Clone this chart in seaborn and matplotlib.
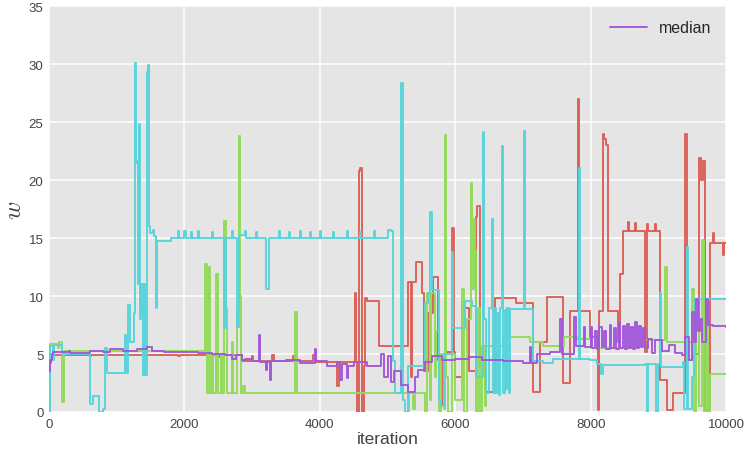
import numpy as np
import pandas as pd
import matplotlib
matplotlib.use("Agg")
import matplotlib.pyplot as plt
import seaborn as sns

# ---------------- data (step breakpoints) ----------------
red_iter = [0, 30, 600, 620, 1400, 1420, 1900, 1930, 2500, 2530, 2850, 3000, 3020, 3300, 3320,
            3600, 3630, 3900, 3930, 4250, 4290, 4520, 4540, 4555, 4575, 4600, 4620, 4650, 4670,
            4700, 4880, 5300, 5340, 5360, 5420, 5510, 5540, 5600, 5670, 5750, 5800, 5850, 5950,
            5975, 6000, 6100, 6200, 6300, 6320, 6370, 6440, 6590, 6900, 7150, 7250, 7350, 7590,
            7700, 7810, 7830, 7990, 8110, 8130, 8180, 8200, 8230, 8260, 8400, 8430, 8480, 8550,
            8570, 8650, 8670, 8800, 8830, 8850, 8950, 8970, 9020, 9130, 9220, 9400, 9420, 9500,
            9600, 9630, 9660, 9690, 9760, 9800, 9820, 9950, 9970, 10000]
red_w = [4.2, 4.95, 4.8, 4.95, 4.85, 4.95, 4.8, 4.95, 4.75, 4.95, 4.4, 4.85, 4.4, 4.9, 4.4,
         4.8, 4.4, 4.9, 4.3, 2.2, 4.3, 10.3, 4.3, 0.0, 20.8, 21.0, 0.0, 4.0, 9.8,
         9.6, 5.7, 11.2, 3.0, 11.2, 12.9, 10.3, 3.5, 8.5, 11.6, 4.5, 0.5, 5.2, 15.9,
         5.2, 3.0, 9.0, 3.5, 16.8, 17.8, 4.0, 1.7, 9.8, 9.4, 1.7, 6.0, 9.9, 2.5,
         8.7, 27.0, 8.7, 6.5, 0.2, 8.7, 24.0, 23.5, 23.0, 8.7, 6.0, 11.9, 15.6, 16.4,
         15.6, 16.3, 15.6, 5.2, 16.2, 15.6, 16.2, 15.6, 2.8, 0.2, 1.6, 24.0, 4.5, 5.0,
         21.9, 20.0, 21.6, 0.2, 14.6, 15.4, 14.6, 13.5, 14.6, 14.6]

green_iter = [0, 20, 130, 150, 190, 215, 2310, 2330, 2340, 2360, 2380, 2400, 2420, 2470, 2490,
              2540, 2560, 2590, 2610, 2630, 2700, 2720, 2780, 2800, 2820, 2840, 2870, 2890, 3640,
              3660, 5300, 5320, 5380, 5400, 5560, 5580, 5620, 5640, 5700, 5720, 5760, 5790, 5830,
              5850, 5870, 5900, 5950, 6000, 6100, 6130, 6180, 6230, 6250, 6270, 6290, 6310, 6340,
              6370, 6400, 6440, 6460, 6700, 7100, 7300, 7600, 7800, 8000, 8600, 8800, 9100, 9125,
              9500, 9520, 9560, 9600, 9640, 9670, 9700, 9730, 9760, 10000]
green_w = [0.0, 5.9, 5.5, 6.0, 0.9, 5.3, 12.8, 8.0, 1.6, 12.5, 1.6, 5.0, 1.6, 11.9, 1.6,
           5.0, 1.6, 16.5, 9.0, 1.6, 6.0, 1.6, 8.7, 23.8, 10.0, 1.6, 2.2, 1.6, 8.6,
           1.6, 0.0, 1.6, 0.3, 1.6, 0.0, 10.3, 1.0, 10.3, 3.0, 7.0, 0.0, 5.0, 0.3,
           23.9, 3.0, 0.0, 5.0, 1.0, 10.6, 0.0, 8.0, 19.7, 10.6, 16.6, 14.0, 0.0, 9.0,
           0.0, 5.7, 0.5, 5.7, 6.5, 6.0, 5.7, 6.5, 6.3, 5.5, 6.0, 6.2, 12.5, 6.0,
           10.6, 0.0, 8.0, 0.5, 14.8, 0.0, 9.0, 0.0, 3.3, 3.3]

cyan_iter = [0, 15, 60, 80, 190, 605, 650, 740, 800, 820, 860, 1120, 1140, 1170, 1190, 1250,
             1270, 1285, 1300, 1315, 1330, 1345, 1360, 1390, 1410, 1420, 1440, 1460, 1475, 1490,
             1530, 1550, 1580, 1600, 1800, 1900, 1915, 2000, 2020, 2100, 2115, 2200, 2215, 2400,
             2420, 2590, 2620, 2700, 2715, 2780, 2800, 2900, 2915, 3050, 3065, 3210, 3250, 3400,
             3415, 3550, 3565, 3700, 3715, 3850, 3865, 4000, 4015, 4200, 4215, 4400, 4415, 4600,
             4615, 4800, 4815, 5000, 5050, 5080, 5110, 5200, 5225, 5260, 5300, 5560, 5600, 5630,
             5650, 5760, 5790, 5830, 5950, 5970, 6070, 6150, 6250, 6300, 6410, 6430, 6450, 6500,
             6540, 6560, 6580, 6600, 6620, 6640, 6660, 6690, 6710, 6730, 6750, 6770, 6790, 6810,
             7016, 7035, 7150, 7300, 7450, 7810, 7825, 7845, 7990, 8100, 8150, 8180, 8500, 8800,
             8830, 8850, 8950, 8970, 8990, 9026, 9045, 9360, 9380, 9420, 9440, 9500, 9530, 9545,
             10000]
cyan_w = [0.0, 5.7, 4.5, 5.8, 5.0, 0.7, 1.4, 0.0, 0.3, 5.5, 3.4, 6.6, 3.4, 9.2, 6.0, 8.5,
          30.1, 21.5, 21.6, 11.0, 24.8, 8.0, 11.0, 3.2, 11.0, 3.2, 29.3, 29.9, 16.0, 15.4,
          15.7, 15.2, 9.0, 14.7, 15.0, 15.6, 15.0, 15.6, 15.0, 15.5, 15.0, 15.6, 15.0, 15.5,
          15.0, 7.2, 15.0, 15.6, 15.0, 7.3, 15.3, 15.6, 15.0, 15.5, 15.0, 10.6, 15.0, 15.6,
          15.0, 15.5, 15.0, 15.6, 15.0, 15.5, 15.0, 15.6, 15.0, 15.5, 15.0, 15.6, 15.0, 15.5,
          15.0, 15.6, 15.0, 15.7, 15.6, 4.4, 1.6, 28.4, 1.0, 0.0, 4.0, 9.4, 10.3, 17.2,
          10.5, 1.0, 0.5, 5.0, 13.8, 7.2, 7.2, 9.6, 9.1, 3.0, 24.1, 8.0, 1.6, 9.0,
          16.6, 1.6, 9.0, 1.6, 8.5, 1.5, 9.0, 22.9, 1.6, 8.8, 2.0, 9.0, 1.6, 8.9,
          24.2, 8.9, 4.4, 4.2, 4.6, 4.6, 21.0, 4.6, 4.5, 4.1, 3.3, 4.05, 4.05, 4.1,
          0.0, 4.1, 4.1, 0.0, 4.1, 10.3, 3.9, 4.3, 0.3, 14.2, 0.3, 3.0, 5.0, 9.7,
          9.7]

median_iter = [0, 15, 40, 60, 300, 310, 600, 800, 900, 1100, 1300, 1450, 1520, 1700, 2200,
               2400, 2600, 2700, 2760, 2850, 2900, 3000, 3100, 3120, 3200, 3220, 3260, 3280,
               3500, 3700, 3930, 3950, 4100, 4250, 4300, 4320, 4400, 4420, 4500, 4700, 4900,
               4950, 5000, 5050, 5100, 5200, 5300, 5400, 5450, 5550, 5650, 5800, 6000, 6200,
               6400, 6700, 7000, 7100, 7120, 7200, 7400, 7550, 7570, 7700, 7750, 7780, 7900,
               7920, 8000, 8020, 8060, 8090, 8130, 8160, 8200, 8230, 8280, 8300, 8350, 8380,
               8420, 8440, 8480, 8500, 8540, 8560, 8600, 8620, 8660, 8680, 8720, 8740, 8780,
               8800, 8850, 8900, 8950, 9050, 9150, 9250, 9350, 9400, 9450, 9500, 9530, 9560,
               9580, 9620, 9650, 9700, 9730, 9800, 10000]
median_w = [3.5, 4.5, 5.0, 5.2, 5.3, 5.1, 5.3, 5.2, 5.4, 5.3, 5.4, 5.6, 5.3, 5.2, 5.1,
            5.0, 4.9, 4.6, 4.9, 4.5, 4.6, 4.4, 6.6, 4.3, 3.6, 4.3, 2.8, 4.4,
            4.5, 4.2, 5.4, 4.4, 4.0, 4.3, 2.8, 4.1, 2.9, 4.0, 4.3, 4.0, 5.0,
            3.0, 4.8, 2.6, 3.5, 2.3, 1.7, 3.0, 3.6, 4.3, 4.8, 4.5, 4.6, 4.7,
            4.5, 4.4, 4.2, 5.6, 4.2, 5.0, 5.2, 8.0, 5.0, 5.0, 8.2, 5.7, 7.3,
            5.6, 7.3, 5.5, 7.0, 5.4, 7.3, 5.6, 7.0, 5.4, 7.5, 5.5, 7.2, 5.4,
            7.8, 5.5, 7.4, 5.4, 7.6, 5.5, 7.3, 5.4, 7.8, 5.5, 7.4, 5.6, 7.2,
            5.5, 6.3, 5.1, 6.2, 5.3, 5.8, 5.1, 4.9, 6.5, 4.5, 8.6, 6.0, 9.7,
            7.0, 8.0, 6.0, 9.7, 7.5, 7.4, 7.3]

x_ticks = [0, 2000, 4000, 6000, 8000, 10000]
y_ticks = [0, 5, 10, 15, 20, 25, 30, 35]

# ---------------- style ----------------
sns.set_theme(style="darkgrid", rc={
    "axes.facecolor": "#E5E5E5",
    "grid.color": "white",
    "grid.linewidth": 1.1,
    "xtick.color": "#444444",
    "ytick.color": "#444444",
    "axes.labelcolor": "#444444",
    "xtick.major.size": 0,
    "ytick.major.size": 0,
})
plt.rcParams["font.family"] = ["Liberation Sans", "DejaVu Sans"]
plt.rcParams["mathtext.fontset"] = "cm"

colors = sns.color_palette("hls", 4)

fig = plt.figure(figsize=(7.47, 4.56), dpi=100)
ax = fig.add_axes([0.0656, 0.0943, 0.9064, 0.8903])

series = [(red_iter, red_w, colors[0], None),
          (green_iter, green_w, colors[1], None),
          (cyan_iter, cyan_w, colors[2], None),
          (median_iter, median_w, colors[3], "median")]
for xs, ys, c, lab in series:
    df = pd.DataFrame({"iteration": xs, "w": ys})
    sns.lineplot(data=df, x="iteration", y="w", ax=ax, color=c, lw=1.35,
                 drawstyle="steps-post", estimator=None, sort=False, label=lab)

ax.set_xlim(0, 10000)
ax.set_ylim(0, 35)
ax.set_xticks(x_ticks)
ax.set_yticks(y_ticks)
ax.tick_params(axis="both", labelsize=9.5, pad=4)
ax.set_xlabel("iteration", fontsize=12.5, labelpad=1)
ax.set_ylabel("$w$", fontsize=18, labelpad=2)
for s in ax.spines.values():
    s.set_visible(False)
ax.legend(loc="upper right", frameon=False, fontsize=11.5, handlelength=2.3)

fig.savefig("out.png", dpi=100)
